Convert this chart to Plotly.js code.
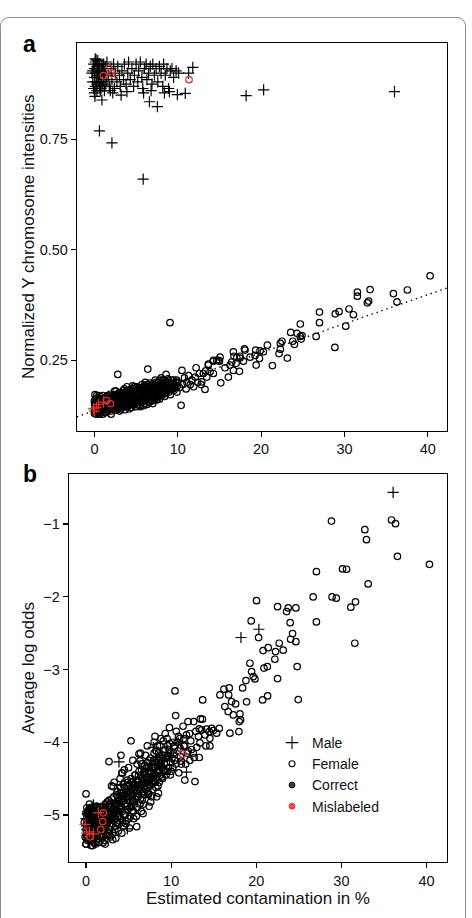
<!DOCTYPE html>
<html><head><meta charset="utf-8">
<script src="https://cdn.plot.ly/plotly-3.0.1.min.js"></script>
<style>
html,body{margin:0;padding:0;background:#fff;}
#card{position:absolute;left:0px;top:17px;width:466px;height:940px;border:1.5px solid #8c8c8c;border-radius:9px;box-sizing:border-box;}
#chart{position:absolute;left:0;top:0;width:472px;height:918px;}
</style>
</head><body><div id="card"></div><div id="chart"></div>
<script>
// ---- Panel a: Normalized Y chromosome intensities vs estimated contamination (%) ----
const femaleA = [
[0.0,0.140],[0.1,0.135],[0.2,0.145],[0.3,0.138],[0.1,0.150],[0.4,0.142],[0.5,0.133],[0.2,0.155],[0.6,0.148],[0.7,0.140],[0.3,0.160],[0.8,0.152],[0.9,0.137],[0.5,0.158],[1.0,0.145],[0.0,0.130],[0.2,0.128],[0.6,0.162],[0.9,0.160],[1.1,0.150],[1.2,0.140],[0.4,0.165],[0.8,0.132],[1.3,0.155],[1.4,0.147],[0.0,0.158],[0.07,0.172],[1.5,0.139],[1.6,0.160],[1.7,0.150],
[0.15,0.142],[0.35,0.150],[0.55,0.141],[0.75,0.156],[0.95,0.146],[1.15,0.138],[1.35,0.162],[1.55,0.150],[1.75,0.158],[1.95,0.148],[1.0,0.128],[1.6,0.170],[0.6,0.170],
[1.8,0.143],[1.9,0.165],[2.0,0.155],[2.1,0.147],[2.2,0.170],[2.3,0.152],[2.4,0.140],[2.5,0.160],[2.6,0.148],[2.7,0.165],[2.8,0.155],[2.9,0.175],[3.0,0.150],[3.1,0.162],[3.2,0.143],[2.0,0.135],[2.5,0.172],[3.3,0.168],[3.4,0.157],[3.5,0.147],[3.47,0.182],[2.8,0.218],
[2.15,0.160],[2.35,0.163],[2.55,0.151],[2.75,0.143],[2.95,0.160],[3.15,0.170],[3.35,0.150],[3.0,0.135],[2.0,0.128],[2.6,0.180],
[3.6,0.170],[3.7,0.160],[3.8,0.152],[3.9,0.178],[4.0,0.165],[4.1,0.148],[4.2,0.172],[4.3,0.158],[4.4,0.185],[4.5,0.163],[4.6,0.150],[4.7,0.175],[4.8,0.168],[4.9,0.157],[5.0,0.180],[5.1,0.162],[5.2,0.150],[5.3,0.172],[5.4,0.188],[5.5,0.165],[5.6,0.155],[5.7,0.178],[5.8,0.168],[5.9,0.147],[6.0,0.183],[4.2,0.140],[5.0,0.145],[3.9,0.190],[4.6,0.192],[5.7,0.195],
[3.55,0.162],[3.75,0.175],[3.95,0.158],[4.15,0.165],[4.35,0.177],[4.55,0.170],[4.75,0.158],[4.95,0.168],[5.15,0.175],[5.35,0.160],[5.55,0.183],[5.75,0.160],[5.95,0.172],[4.0,0.145],[5.5,0.145],[3.6,0.185],[4.8,0.190],
[6.1,0.160],[6.2,0.175],[6.3,0.190],[6.4,0.230],[6.5,0.168],[6.6,0.155],[6.7,0.182],[6.8,0.172],[6.9,0.195],[7.0,0.165],[7.1,0.185],[7.2,0.160],[7.3,0.178],[7.4,0.200],[7.5,0.170],[7.6,0.188],[7.7,0.175],[7.8,0.162],[7.9,0.195],[8.0,0.182],[8.1,0.170],[8.2,0.205],[8.3,0.190],[8.4,0.175],[8.5,0.195],[8.6,0.218],[6.3,0.150],[7.0,0.152],
[6.15,0.185],[6.35,0.165],[6.55,0.178],[6.75,0.190],[6.95,0.175],[7.15,0.170],[7.35,0.188],[7.55,0.180],[7.75,0.193],[7.95,0.172],[8.15,0.188],[8.35,0.178],[8.55,0.185],[6.5,0.155],[7.5,0.160],[6.1,0.200],[7.3,0.205],[8.0,0.210],
[8.7,0.180],[8.8,0.200],[8.9,0.188],[9.07,0.335],[9.1,0.172],[9.2,0.195],[9.4,0.185],[9.5,0.205],[9.7,0.192],[9.9,0.178],[10.0,0.200],[10.2,0.188],[10.4,0.148],[10.5,0.227],[10.6,0.195],[10.8,0.210],[11.0,0.185],[11.1,0.200],[11.3,0.215],[11.5,0.195],[11.7,0.205],[11.9,0.190],[12.1,0.212],[12.2,0.233],[12.4,0.200],[12.6,0.220],[12.8,0.195],
[8.75,0.192],[8.95,0.178],[9.15,0.188],[9.35,0.198],[9.55,0.182],[9.75,0.200],[9.95,0.192],
[0.05,0.147],[0.12,0.162],[0.18,0.133],[0.25,0.152],[0.33,0.143],[0.42,0.157],[0.48,0.137],[0.58,0.153],[0.66,0.135],[0.72,0.163],[0.82,0.145],[0.88,0.155],[0.98,0.139],[1.05,0.163],[1.12,0.147],[1.22,0.155],[1.28,0.133],[1.38,0.150],[1.45,0.167],[1.52,0.143],[1.62,0.153],[1.68,0.137],[1.78,0.165],[1.85,0.152],[1.92,0.141],[2.02,0.162],[2.08,0.150],[2.18,0.139],[2.28,0.158],[2.38,0.171],[2.45,0.148],[2.52,0.137],[2.62,0.157],[2.68,0.170],[2.78,0.149],[2.85,0.162],[2.92,0.141],[3.02,0.167],[3.08,0.155],[3.18,0.146],[3.25,0.177],[3.32,0.160],[3.42,0.143],[3.48,0.170],[3.58,0.155],[3.65,0.148],[3.72,0.167],[3.82,0.180],[3.88,0.162],[3.98,0.150],
[4.05,0.175],[4.12,0.158],[4.22,0.182],[4.28,0.165],[4.38,0.150],[4.45,0.172],[4.52,0.180],[4.62,0.160],[4.68,0.185],[4.78,0.165],[4.85,0.152],[4.92,0.178],[5.02,0.168],[5.08,0.190],[5.18,0.157],[5.25,0.180],[5.32,0.166],[5.42,0.175],[5.48,0.155],[5.58,0.172],[5.65,0.188],[5.72,0.165],[5.82,0.180],[5.88,0.158],[5.98,0.192],[6.05,0.170],[6.12,0.178],[6.22,0.160],[6.28,0.195],[6.38,0.180],[6.45,0.172],[6.52,0.190],[6.62,0.168],[6.68,0.198],[6.78,0.180],[6.85,0.163],[6.92,0.188],[7.02,0.178],[7.08,0.195],[7.18,0.182],[7.25,0.168],[7.32,0.193],[7.42,0.175],[7.48,0.188],[7.58,0.168],[7.65,0.200],[7.72,0.185],[7.82,0.178],[7.88,0.205],[7.98,0.190],
[8.05,0.175],[8.12,0.198],[8.22,0.182],[8.28,0.192],[8.38,0.205],[8.45,0.185],[8.52,0.175],[8.62,0.200],[8.68,0.188],[8.82,0.208],[8.88,0.182],[9.02,0.195],[9.22,0.185],[9.28,0.205],[9.45,0.195],[9.62,0.188],[9.85,0.205],[0.02,0.152],[0.28,0.170],[0.62,0.128],[1.02,0.170],[1.42,0.132],[1.88,0.173],[2.42,0.180],[3.12,0.138],[3.68,0.138],[4.48,0.143],[5.38,0.148],[6.02,0.152],[6.88,0.158],[7.62,0.165],[8.42,0.168],
[13.07,0.220],[13.27,0.184],[12.88,0.201],[13.35,0.226],[13.48,0.212],[13.67,0.239],[13.67,0.241],[13.87,0.224],[14.27,0.250],[14.27,0.220],[14.27,0.248],[14.67,0.250],[14.87,0.250],[15.0,0.248],[15.07,0.257],[15.16,0.199],[15.67,0.233],[16.07,0.212],[16.27,0.239],[16.47,0.246],[16.67,0.269],[16.67,0.227],[16.75,0.259],[17.0,0.243],[17.08,0.256],[17.4,0.225],[17.47,0.255],[17.47,0.259],[17.87,0.248],[18.0,0.276],[18.07,0.273],[18.67,0.257],[19.27,0.261],[19.35,0.273],[19.4,0.239],[19.8,0.254],[19.87,0.271],[20.27,0.269],[20.75,0.284],[21.35,0.238],[22.15,0.265],[22.3,0.275],[22.3,0.288],[22.5,0.293],[23.15,0.255],[23.55,0.313],[23.8,0.293],[24.0,0.286],[24.3,0.311],[24.7,0.304],[24.7,0.332],[24.8,0.298],[24.9,0.306],[26.6,0.304],[27.0,0.359],[27.0,0.335],[28.85,0.279],[28.9,0.355],[29.35,0.360],[30.15,0.327],[30.55,0.366],[31.07,0.353],[31.55,0.404],[31.55,0.395],[32.75,0.380],[32.9,0.384],[33.07,0.410],[35.87,0.401],[36.3,0.382],[37.55,0.409],[40.27,0.441]
];
const maleA = [
[-0.3,0.90],[-0.2,0.88],[-0.1,0.92],[0.0,0.89],[0.0,0.91],[0.1,0.87],[0.1,0.925],[0.2,0.90],[0.2,0.88],[0.3,0.915],[0.3,0.86],[0.4,0.895],[0.4,0.92],[0.5,0.88],[0.5,0.905],[0.6,0.87],[0.6,0.92],[0.7,0.895],[0.7,0.86],[0.8,0.91],[0.8,0.88],[0.9,0.92],[0.9,0.895],[1.0,0.87],[1.0,0.905],[1.1,0.885],[1.1,0.92],[1.2,0.90],[1.3,0.875],[1.3,0.915],[1.4,0.895],[1.5,0.925],[1.5,0.88],[0.0,0.855],[-0.1,0.865],[0.2,0.93],[0.1,0.932],[0.4,0.928],[-0.2,0.905],[0.6,0.90],[0.3,0.875],[0.8,0.865],[1.2,0.86],
[1.7,0.895],[1.8,0.87],[2.0,0.91],[2.1,0.885],[2.3,0.92],[2.4,0.865],[2.5,0.90],[2.7,0.88],[2.8,0.915],[3.0,0.895],[3.1,0.87],[3.3,0.905],[3.5,0.885],[3.6,0.92],[3.8,0.875],[4.0,0.90],[4.1,0.925],[4.3,0.885],[4.5,0.91],[4.7,0.87],[4.8,0.895],[5.0,0.92],[5.2,0.88],[2.2,0.855],[3.2,0.85],[1.9,0.86],
[5.3,0.905],[5.5,0.925],[5.7,0.89],[5.8,0.865],[6.0,0.91],[6.2,0.92],[6.3,0.885],[6.5,0.90],[6.7,0.915],[6.9,0.875],[7.0,0.92],[7.2,0.895],[7.4,0.91],[7.6,0.88],[7.8,0.915],[8.0,0.90],[8.2,0.87],[8.3,0.92],[8.5,0.895],[8.7,0.91],[8.9,0.865],[9.1,0.905],[9.3,0.91],[9.5,0.89],[9.8,0.905],[10.1,0.90],[5.9,0.855],[6.8,0.86],[8.4,0.855],[9.0,0.858],
[0.07,0.847],[0.9,0.839],[0.6,0.769],[2.1,0.742],[3.9,0.858],[5.85,0.66],[6.6,0.835],[7.55,0.824],[9.95,0.851],[10.9,0.854],[11.3,0.90],[11.8,0.913],[18.2,0.849],[20.3,0.862],[36.0,0.858]
];
const misMaleA = [[-0.13,0.140],[0.27,0.144],[1.07,0.155],[0.5,0.150],[0.0,0.135]];
const misFemaleA = [[1.47,0.159],[1.9,0.152],[1.07,0.894],[1.75,0.911],[2.1,0.899],[11.35,0.885]];
const fitLineX = [-2.1, 42.3];
const fitLineY = [0.122, 0.4135];

// ---- Panel b: Average log odds vs estimated contamination (%) ----
const femaleB = [
[0.0,-5.20],[0.1,-5.05],[0.2,-5.30],[0.3,-4.95],[0.4,-5.15],[0.5,-5.35],[0.6,-5.00],[0.7,-5.22],[0.8,-4.92],[0.9,-5.10],[1.0,-5.28],[1.1,-5.02],[1.2,-5.18],[1.3,-4.90],[1.4,-5.32],[0.0,-5.40],[0.1,-4.90],[0.2,-5.12],[0.3,-5.25],[0.5,-4.98],[0.6,-5.42],[0.8,-5.15],[1.0,-4.95],[1.2,-5.36],[1.5,-5.08],[-0.2,-5.10],[-0.1,-5.30],[0.0,-4.98],[0.4,-4.85],[0.9,-5.38],[0.0,-4.71],[0.0,-5.40],
[0.15,-5.18],[0.35,-5.05],[0.55,-5.25],[0.75,-5.08],[0.95,-5.20],[1.15,-5.12],[1.35,-5.05],[1.55,-5.28],[0.2,-5.35],[1.1,-5.40],
[1.6,-5.20],[1.7,-4.98],[1.8,-5.12],[1.9,-4.88],[2.0,-5.30],[2.1,-5.05],[2.2,-4.92],[2.3,-5.18],[2.4,-5.00],[2.5,-4.82],[2.6,-5.25],[2.7,-5.08],[2.8,-4.90],[2.9,-5.15],[3.0,-4.78],[3.1,-5.02],[3.2,-4.61],[3.13,-5.34],[3.3,-4.88],[3.4,-5.20],[3.5,-4.95],[3.6,-4.72],[3.7,-5.10],[3.8,-4.85],[3.9,-5.00],[2.2,-5.35],[2.8,-5.28],[1.84,-5.29],[2.7,-4.265],
[1.75,-5.10],[1.95,-5.02],[2.15,-5.15],[2.35,-5.00],[2.55,-5.10],[2.75,-4.96],[2.95,-5.05],[3.15,-4.92],[3.35,-5.05],[3.55,-4.85],[3.75,-4.95],[3.95,-4.80],[2.0,-5.38],[2.9,-5.30],[3.8,-5.22],[3.0,-4.60],
[4.0,-4.70],[4.1,-4.92],[4.2,-4.42],[4.3,-5.10],[4.4,-4.80],[4.5,-4.62],[4.6,-5.00],[4.7,-4.75],[4.8,-4.88],[4.9,-4.55],[5.0,-5.05],[5.1,-4.68],[5.2,-4.82],[5.28,-3.98],[5.3,-4.50],[5.4,-4.95],[5.5,-4.72],[5.6,-4.60],[5.7,-4.85],[5.8,-4.45],[5.95,-5.16],[6.0,-4.70],[6.1,-4.55],[6.22,-4.16],[6.34,-4.255],[6.54,-4.297],[6.6,-4.80],[6.7,-4.62],[6.8,-4.40],[6.9,-4.72],[4.26,-4.425],[4.1,-4.18],[4.4,-5.15],[5.0,-4.35],
[4.15,-4.88],[4.35,-4.70],[4.55,-4.85],[4.75,-4.60],[4.95,-4.78],[5.15,-4.90],[5.35,-4.65],[5.55,-4.82],[5.75,-4.58],[5.95,-4.75],[6.15,-4.62],[6.35,-4.85],[6.55,-4.50],[6.75,-4.68],[6.95,-4.45],[4.7,-5.12],[5.6,-5.05],[6.5,-4.95],[4.0,-4.50],[6.0,-4.30],
[7.0,-4.55],[7.1,-4.35],[7.2,-4.68],[7.3,-4.48],[7.4,-4.25],[7.5,-4.60],[7.6,-4.40],[7.7,-4.75],[7.8,-4.30],[7.9,-4.52],[8.0,-4.15],[8.1,-4.45],[8.2,-4.62],[8.3,-4.28],[8.4,-4.05],[8.5,-4.40],[8.6,-4.55],[8.7,-4.20],[8.8,-3.95],[8.9,-4.35],[9.0,-4.50],[9.1,-4.12],[9.2,-4.30],[9.3,-3.88],[9.4,-4.45],[9.5,-4.20],[9.6,-4.05],[9.7,-4.35],[9.8,-3.80],[9.9,-4.15],[10.0,-4.40],[10.45,-3.294],[10.53,-3.633],
[7.15,-4.60],[7.35,-4.70],[7.55,-4.42],[7.75,-4.55],[7.95,-4.35],[8.15,-4.55],[8.35,-4.40],[8.55,-4.25],[8.75,-4.45],[8.95,-4.18],[9.15,-4.38],[9.35,-4.22],[9.55,-4.40],[9.75,-4.10],[9.95,-4.28],[7.4,-4.88],[8.3,-4.75],[7.0,-4.18],[8.0,-4.00],
[0.05,-5.12],[0.12,-5.28],[0.18,-4.98],[0.25,-5.20],[0.32,-5.08],[0.42,-5.32],[0.48,-5.10],[0.58,-4.92],[0.65,-5.18],[0.72,-5.35],[0.82,-5.02],[0.88,-5.25],[0.98,-5.12],[1.05,-4.88],[1.12,-5.30],[1.22,-5.08],[1.28,-4.98],[1.38,-5.22],[1.45,-5.38],[1.52,-5.02],[1.62,-5.12],[1.68,-4.90],[1.78,-5.30],[1.85,-5.05],[1.92,-5.18],[2.02,-4.95],[2.08,-5.22],[2.18,-5.08],[2.28,-4.85],[2.38,-5.28],[2.45,-5.12],[2.52,-4.95],[2.62,-5.05],[2.68,-4.80],[2.78,-5.20],[2.85,-5.02],[2.92,-4.88],[3.02,-5.12],[3.08,-4.95],[3.18,-5.25],[3.25,-4.75],[3.32,-5.00],[3.42,-4.85],[3.48,-5.15],[3.58,-4.95],[3.65,-4.68],[3.72,-5.02],[3.82,-4.80],[3.88,-5.12],[3.98,-4.90],
[4.05,-4.62],[4.12,-5.05],[4.22,-4.78],[4.28,-4.95],[4.38,-4.58],[4.45,-5.00],[4.52,-4.72],[4.62,-4.88],[4.68,-5.08],[4.78,-4.68],[4.85,-4.52],[4.92,-4.92],[5.02,-4.75],[5.08,-4.58],[5.18,-5.02],[5.25,-4.70],[5.32,-4.88],[5.42,-4.55],[5.48,-4.80],[5.58,-4.95],[5.65,-4.65],[5.72,-4.45],[5.82,-4.78],[5.88,-4.62],[5.98,-4.90],[6.05,-4.52],[6.12,-4.75],[6.22,-4.40],[6.28,-4.65],[6.38,-4.78],[6.45,-4.58],[6.52,-4.38],[6.62,-4.70],[6.68,-4.55],[6.78,-4.85],[6.85,-4.50],[6.92,-4.32],
[7.02,-4.65],[7.08,-4.48],[7.18,-4.28],[7.25,-4.55],[7.32,-4.72],[7.42,-4.40],[7.48,-4.58],[7.58,-4.22],[7.65,-4.50],[7.72,-4.35],[7.82,-4.65],[7.88,-4.45],[7.98,-4.25],[8.05,-4.55],[8.12,-4.35],[8.22,-4.12],[8.28,-4.50],[8.38,-4.32],[8.45,-4.60],[8.52,-4.15],[8.62,-4.38],[8.68,-4.05],[8.82,-4.30],[8.88,-4.48],[9.02,-4.18],[9.08,-3.98],[9.22,-4.40],[9.28,-4.10],[9.45,-4.28],[9.52,-3.95],[9.62,-4.18],[9.85,-4.02],[9.9,-4.45],[10.1,-4.22],[10.35,-4.05],[10.55,-4.30],[10.85,-3.92],[11.05,-4.08],
[0.02,-5.32],[0.35,-4.92],[0.78,-5.42],[1.32,-4.88],[2.25,-5.40],[3.5,-5.32],[4.2,-5.25],[5.1,-5.18],[5.9,-5.02],[6.7,-4.98],[7.6,-4.82],[8.5,-4.70],[3.3,-4.55],[4.5,-4.38],[5.5,-4.25],[6.4,-4.15],[7.2,-4.05],[8.1,-3.92],
[10.2,-4.00],[10.4,-4.25],[10.6,-3.85],[10.8,-4.12],[11.0,-3.95],[11.2,-4.30],[11.4,-3.78],[11.6,-4.52],[11.6,-4.05],[11.8,-3.90],[11.98,-3.716],[12.16,-3.88],[12.4,-4.10],[12.65,-3.716],[12.7,-4.21],[12.8,-4.54],[13.0,-4.07],[13.2,-3.92],[13.3,-4.21],[13.3,-3.816],[13.38,-4.01],[13.43,-3.679],[13.58,-3.83],[13.67,-3.683],[13.7,-3.418],[13.97,-3.90],[14.08,-4.05],[14.17,-3.82],[14.48,-3.855],[14.55,-3.946],[14.55,-4.05],[14.75,-3.81],[14.95,-3.84],[15.34,-3.876],[15.65,-3.81],[15.73,-3.349],[16.2,-3.271],[16.31,-3.51],[16.7,-3.578],[16.75,-3.349],[16.82,-3.253],[16.9,-3.876],[17.1,-3.441],[17.3,-3.624],[17.57,-3.473],[17.96,-3.853],[18.0,-3.716],[18.08,-3.61],[18.16,-3.692],[18.39,-3.253],[18.78,-3.152],[18.86,-3.445],[19.25,-2.914],[19.4,-2.332],[19.45,-3.029],[19.64,-3.098],[19.84,-3.129],[20.03,-2.054],[20.27,-2.561],[20.74,-3.418],[20.8,-2.74],[20.9,-2.98],[21.3,-2.96],[21.33,-3.363],[21.4,-2.70],
[10.3,-4.15],[10.7,-4.00],[11.1,-4.20],[11.5,-3.95],[11.9,-4.15],[12.3,-3.98],[12.9,-3.85],[11.5,-4.05],[12.0,-4.12],[12.6,-4.15],[12.2,-4.25],[11.7,-4.30],[10.2,-4.35],[10.9,-4.42],[11.2,-4.26],
[22.26,-2.754],[22.69,-2.639],[23.16,-2.735],[22.18,-2.859],[24.8,-2.96],[22.5,-3.125],[24.93,-3.413],[22.5,-2.136],[23.75,-2.154],[24.65,-2.154],[23.56,-2.204],[23.98,-2.356],[24.26,-2.507],[24.03,-2.584],[24.65,-2.617],[26.68,-2.003],[27.06,-1.655],[27.06,-2.346],[28.83,-0.96],[28.9,-2.003],[29.4,-2.02],[30.13,-1.618],[30.6,-1.622],[31.1,-2.144],[31.57,-2.639],[31.65,-2.07],[32.75,-1.078],[32.94,-1.216],[33.14,-1.824],[35.88,-0.945],[36.35,-0.996],[36.58,-1.444],[40.34,-1.554]
];
const maleB = [
[0.0,-5.05],[0.1,-5.20],[0.2,-4.95],[0.3,-5.12],[0.4,-5.28],[0.5,-5.00],[0.6,-5.15],[0.7,-4.90],[0.8,-5.22],[0.9,-5.05],[1.0,-4.95],[1.1,-5.18],[1.2,-5.00],[1.3,-5.10],[1.5,-4.92],[1.7,-5.05],[2.0,-4.88],[2.3,-5.00],[2.6,-4.85],[3.0,-4.95],[3.4,-4.80],[3.8,-4.70],[4.5,-4.75],[5.2,-4.60],[5.8,-4.50],[6.4,-4.55],[7.0,-4.40],[7.6,-4.30],[8.2,-4.45],[9.0,-4.25],
[0.05,-5.15],[0.15,-4.98],[0.25,-5.25],[0.35,-5.10],[0.45,-4.92],[0.55,-5.20],[0.65,-5.05],[0.75,-5.30],[0.85,-5.12],[0.95,-4.98],[1.05,-5.22],[1.15,-5.05],[1.25,-4.90],[1.4,-5.15],[1.6,-5.00],[1.8,-5.18],[2.1,-5.05],[2.4,-4.92],[2.8,-5.05],[3.2,-4.88],[3.6,-4.95],[4.0,-4.78],[4.4,-4.65],[4.9,-4.70],[5.5,-4.55],[6.1,-4.62],[6.7,-4.45],[7.3,-4.38],[7.9,-4.45],[8.6,-4.30],[9.3,-4.20],[10.0,-4.15],
[0.86,-4.86],[4.85,-5.19],[4.19,-4.59],[3.87,-4.27],[7.9,-4.07],[8.37,-4.23],[10.83,-4.01],[11.8,-4.41],[18.2,-2.56],[20.3,-2.447],[36.07,-0.565]
];
const misMaleB = [[1.45,-4.97],[-0.12,-5.13],[0.39,-5.23],[0.08,-5.25],[0.86,-5.26]];
const misFemaleB = [[2.03,-4.97],[1.96,-5.09],[1.72,-5.2],[0.47,-5.3],[11.35,-4.16]];

// legend
const legendLabels = ['Male','Female','Correct','Mislabeled'];

const FONT = "'Liberation Sans', Arial, Helvetica, sans-serif";
const RED = '#e2312b';
const xs = a => a.map(p => p[0]);
const ys = a => a.map(p => p[1]);

function pts(arr, sym, color, size, xa, ya){
  return {x: xs(arr), y: ys(arr), xaxis: xa, yaxis: ya, type:'scatter', mode:'markers', showlegend:false, hoverinfo:'skip',
    marker:{symbol:sym, size:size, color:color, line:{color:color, width:1.2}}};
}

const traces = [
  pts(femaleA,'circle-open','#000',6.5,'x','y'),
  pts(maleA,'cross-thin-open','#000',8,'x','y'),
  pts(misMaleA,'cross-thin-open',RED,8,'x','y'),
  pts(misFemaleA,'circle-open',RED,6.5,'x','y'),
  {x: fitLineX, y: fitLineY, xaxis:'x', yaxis:'y', type:'scatter', mode:'lines', showlegend:false, hoverinfo:'skip',
   line:{color:'#000', width:1.4, dash:'1.4px,3.8px'}},
  pts(femaleB,'circle-open','#000',6.5,'x2','y2'),
  pts(maleB,'cross-thin-open','#000',8,'x2','y2'),
  pts(misMaleB,'cross-thin-open',RED,8,'x2','y2'),
  pts(misFemaleB,'circle-open',RED,6.5,'x2','y2'),
  {x:[null], y:[null], xaxis:'x2', yaxis:'y2', type:'scatter', mode:'markers', name:legendLabels[0], showlegend:true,
   marker:{symbol:'cross-thin-open', size:9, color:'#000', line:{color:'#000', width:1.1}}},
  {x:[null], y:[null], xaxis:'x2', yaxis:'y2', type:'scatter', mode:'markers', name:legendLabels[1], showlegend:true,
   marker:{symbol:'circle-open', size:6, color:'#000', line:{color:'#000', width:1.1}}},
  {x:[null], y:[null], xaxis:'x2', yaxis:'y2', type:'scatter', mode:'markers', name:legendLabels[2], showlegend:true,
   marker:{symbol:'circle', size:6, color:'#3a3a3a', line:{color:'#000', width:0.8}}},
  {x:[null], y:[null], xaxis:'x2', yaxis:'y2', type:'scatter', mode:'markers', name:legendLabels[3], showlegend:true,
   marker:{symbol:'circle', size:6, color:'#ef4a43', line:{color:'#e2312b', width:0.8}}}
];

const axisCommon = {showline:true, linecolor:'#000', linewidth:1.2, mirror:true, ticks:'outside', ticklen:5, tickwidth:1.1, tickcolor:'#000',
  showgrid:false, zeroline:false, tickfont:{family:FONT, size:14.5, color:'#111'}, fixedrange:true};

const layout = {
  width:472, height:918, margin:{l:0,r:0,t:0,b:0},
  paper_bgcolor:'rgba(0,0,0,0)', plot_bgcolor:'rgba(0,0,0,0)',
  font:{family:FONT, color:'#111'},
  xaxis: Object.assign({}, axisCommon, {domain:[77/472, 447/472], range:[-2.09, 42.3], tickvals:[0,10,20,30,40], anchor:'y'}),
  yaxis: Object.assign({}, axisCommon, {domain:[1-430.5/918, 1-43/918], range:[0.091, 0.968], tickvals:[0.25,0.5,0.75], tickformat:'.2f', anchor:'x',
    title:{text:'Normalized Y chromosome intensities', font:{family:FONT, size:17, color:'#111'}, standoff:0}}),
  xaxis2: Object.assign({}, axisCommon, {domain:[69/472, 447/472], range:[-2.0, 42.4], tickvals:[0,10,20,30,40], anchor:'y2',
    title:{text:'Estimated contamination in %', font:{family:FONT, size:17, color:'#111'}, standoff:0}}),
  yaxis2: Object.assign({}, axisCommon, {domain:[1-862/918, 1-474/918], range:[-5.646, -0.313], tickvals:[-1,-2,-3,-4,-5], anchor:'x2',
    title:{text:'Average log odds', font:{family:FONT, size:17, color:'#111'}, standoff:4}}),
  legend:{x:272/472, y:1-727/918, xanchor:'left', yanchor:'top', bgcolor:'rgba(0,0,0,0)', borderwidth:0,
    font:{family:FONT, size:14, color:'#111'}, tracegroupgap:0, itemwidth:30},
  annotations:[
    {text:'<b>a</b>', xref:'paper', yref:'paper', x:21/472, y:1-44/918, xanchor:'left', yanchor:'middle', showarrow:false, font:{family:FONT, size:23, color:'#000'}},
    {text:'<b>b</b>', xref:'paper', yref:'paper', x:21/472, y:1-474/918, xanchor:'left', yanchor:'middle', showarrow:false, font:{family:FONT, size:23, color:'#000'}}
  ]
};

Plotly.newPlot('chart', traces, layout, {displayModeBar:false, staticPlot:true});
</script></body></html>
